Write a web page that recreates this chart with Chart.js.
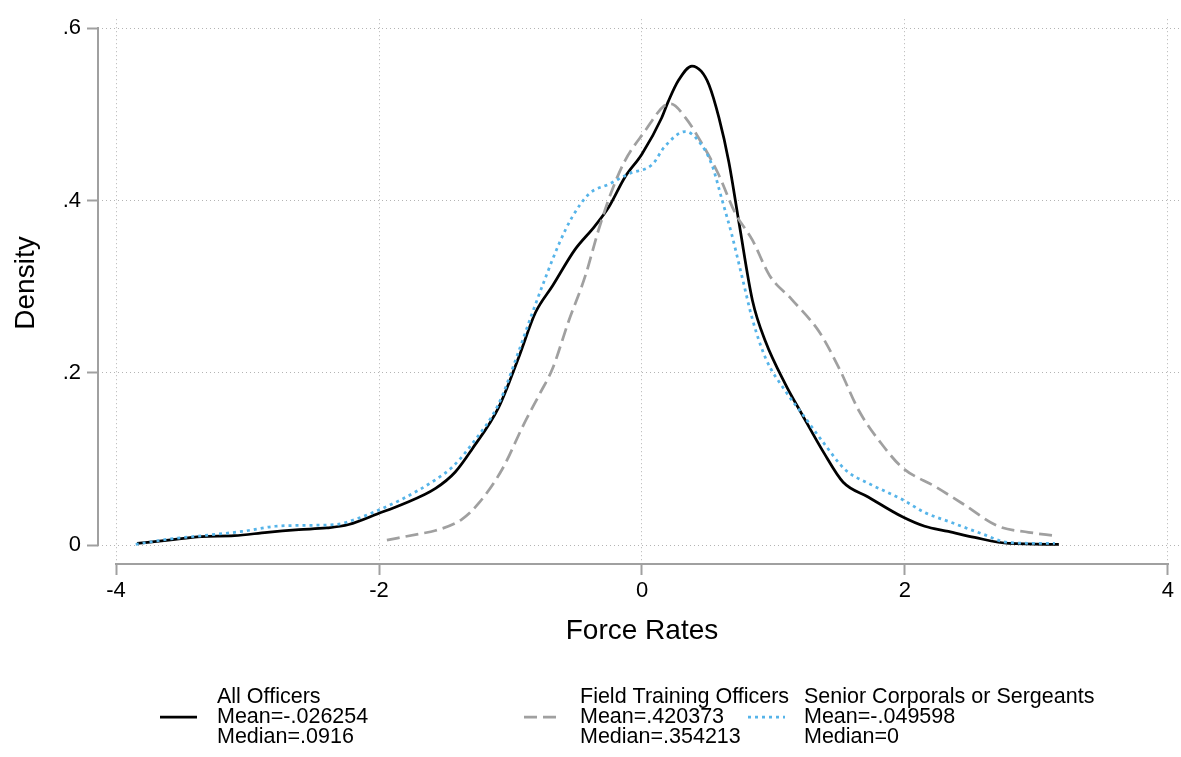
<!DOCTYPE html>
<html>
<head>
<meta charset="utf-8">
<script src="https://cdn.jsdelivr.net/npm/chart.js@4.4.1/dist/chart.umd.min.js"></script>
<style>
    html, body { margin: 0; padding: 0; background: #ffffff; }
    #wrap { width: 1181px; height: 757px; position: relative; }
</style>
</head>
<body>
<div id="wrap"><canvas id="chart" width="1181" height="757"></canvas></div>
<script>
// Kernel density curves
const allX = [-3.84, -3.6, -3.35, -3.1, -2.85, -2.61, -2.4, -2.23, -2.0, -1.83, -1.57, -1.42, -1.29, -1.09,
    -0.94, -0.81, -0.68, -0.51, -0.36, -0.25, -0.13, 0.0, 0.15, 0.2, 0.28, 0.38, 0.45, 0.51, 0.585, 0.66,
    0.74, 0.84, 0.94, 1.09, 1.22, 1.38, 1.53, 1.72, 1.98, 2.15, 2.33, 2.53, 2.79, 3.17];
const allY = [0.002, 0.006, 0.010, 0.011, 0.015, 0.018, 0.020, 0.024, 0.037, 0.047, 0.066, 0.085, 0.112, 0.160,
    0.217, 0.270, 0.301, 0.343, 0.370, 0.393, 0.427, 0.454, 0.496, 0.515, 0.540, 0.556, 0.550, 0.534, 0.496, 0.445,
    0.372, 0.284, 0.236, 0.187, 0.151, 0.108, 0.073, 0.056, 0.033, 0.022, 0.016, 0.009, 0.002, 0.001];

const ftoX = [-1.94, -1.70, -1.57, -1.37, -1.24, -1.06, -0.90, -0.78, -0.68, -0.56, -0.43, -0.33, -0.23, -0.13,
    0.02, 0.17, 0.22, 0.33, 0.46, 0.58, 0.71, 0.84, 0.97, 1.14, 1.35, 1.50, 1.65, 1.83, 1.98, 2.23, 2.43,
    2.71, 2.94, 3.14];
const ftoY = [0.006, 0.013, 0.017, 0.030, 0.049, 0.089, 0.140, 0.175, 0.205, 0.259, 0.313, 0.366, 0.411, 0.446,
    0.480, 0.510, 0.512, 0.496, 0.465, 0.431, 0.385, 0.354, 0.313, 0.285, 0.247, 0.205, 0.156, 0.116, 0.090, 0.068, 0.049,
    0.022, 0.015, 0.011];

const srX = [-3.85, -3.6, -3.35, -3.04, -2.79, -2.59, -2.33, -2.18, -2.0, -1.83, -1.57, -1.44, -1.29, -1.09,
    -0.94, -0.84, -0.74, -0.63, -0.53, -0.40, -0.25, -0.10, 0.08, 0.17, 0.33, 0.43, 0.53, 0.61, 0.68, 0.76,
    0.84, 0.94, 1.09, 1.24, 1.37, 1.55, 1.72, 1.98, 2.15, 2.36, 2.59, 2.79, 3.14];
const srY = [0.001, 0.007, 0.011, 0.016, 0.022, 0.023, 0.024, 0.030, 0.041, 0.053, 0.076, 0.091, 0.118, 0.164,
    0.224, 0.267, 0.308, 0.350, 0.381, 0.408, 0.419, 0.431, 0.442, 0.462, 0.480, 0.469, 0.442, 0.400, 0.362, 0.312,
    0.262, 0.217, 0.179, 0.148, 0.121, 0.087, 0.072, 0.053, 0.038, 0.026, 0.013, 0.003, 0.002];

const xTicks = [-4, -2, 0, 2, 4];
const yTicks = [0, 0.2, 0.4, 0.6];

const seriesNames = ['All Officers', 'Field Training Officers', 'Senior Corporals or Sergeants'];
const seriesMeans = ['Mean=-.026254', 'Mean=.420373', 'Mean=-.049598'];
const seriesMedians = ['Median=.0916', 'Median=.354213', 'Median=0'];

const xTitle = 'Force Rates';
const yTitle = 'Density';

const FONT = "'Liberation Sans', Arial, Helvetica, sans-serif";
const AXIS_GRAY = '#a0a0a0';
const GRID_GRAY = '#b4b4b4';
const colors = ['#000000', '#a0a0a0', '#56b4e9'];
const dashes = [[], [13, 6], [3, 4]];

const toPoints = (xs, ys) => xs.map((x, i) => ({ x, y: ys[i] }));

// stata-like format: .6 instead of 0.6
const fmt = v => {
    if (v === 0) return '0';
    const s = String(Math.round(v * 10) / 10);
    return s.replace(/^0\./, '.').replace(/^-0\./, '-.');
};

// axis lines offset from the plot region, axis titles and the 3-column legend
const stataFrame = {
    id: 'stataFrame',
    afterDraw(chart) {
        const { ctx, chartArea, scales } = chart;
        const xs = scales.x, ys = scales.y;
        ctx.save();
        ctx.strokeStyle = AXIS_GRAY;
        ctx.lineWidth = 2;
        ctx.setLineDash([]);
        ctx.beginPath();
        ctx.moveTo(xs.getPixelForValue(xTicks[0]) - 1, chartArea.bottom);
        ctx.lineTo(xs.getPixelForValue(xTicks[xTicks.length - 1]) + 1, chartArea.bottom);
        ctx.moveTo(chartArea.left, ys.getPixelForValue(yTicks[0]) + 1);
        ctx.lineTo(chartArea.left, ys.getPixelForValue(yTicks[yTicks.length - 1]) - 1);
        ctx.stroke();

        ctx.fillStyle = '#000';
        ctx.font = '28px ' + FONT;
        ctx.textAlign = 'center';
        ctx.textBaseline = 'middle';
        ctx.fillText(xTitle, xs.getPixelForValue(0), 631);
        ctx.translate(26, 283);
        ctx.rotate(-Math.PI / 2);
        ctx.fillText(yTitle, 0, 0);
        ctx.restore();

        // legend
        const keyX = [160, 524, 748];
        const textX = [217, 580, 804];
        ctx.save();
        ctx.font = '21.5px ' + FONT;
        ctx.textAlign = 'left';
        ctx.textBaseline = 'middle';
        for (let i = 0; i < seriesNames.length; i++) {
            ctx.strokeStyle = colors[i];
            ctx.lineWidth = 2.75;
            ctx.setLineDash(dashes[i]);
            ctx.beginPath();
            ctx.moveTo(keyX[i], 717);
            ctx.lineTo(keyX[i] + 37, 717);
            ctx.stroke();
            ctx.fillStyle = '#000';
            ctx.fillText(seriesNames[i], textX[i], 697);
            ctx.fillText(seriesMeans[i], textX[i], 717);
            ctx.fillText(seriesMedians[i], textX[i], 737);
        }
        ctx.restore();
    }
};

const datasets = [
    toPoints(allX, allY),
    toPoints(ftoX, ftoY),
    toPoints(srX, srY),
].map((pts, i) => ({
    label: seriesNames[i],
    data: pts,
    borderColor: colors[i],
    backgroundColor: colors[i],
    borderWidth: 2.75,
    borderDash: dashes[i],
    pointRadius: 0,
    fill: false,
    cubicInterpolationMode: 'monotone',
    order: 2 - i,
}));

const gridStyle = {
    color: GRID_GRAY,
    lineWidth: 1,
    drawTicks: true,
    tickLength: 11,
    tickColor: AXIS_GRAY,
    tickWidth: 2,
};

new Chart(document.getElementById('chart'), {
    type: 'line',
    data: { datasets },
    options: {
        responsive: false,
        animation: false,
        layout: { padding: { left: 12, right: 0, top: 12, bottom: 0 } },
        plugins: {
            legend: { display: false },
            tooltip: { enabled: false },
        },
        scales: {
            x: {
                type: 'linear',
                min: -4.137,
                max: 4.099,
                afterBuildTicks: s => { s.ticks = xTicks.map(v => ({ value: v })); },
                afterFit: s => { s.height = 193; },
                grid: gridStyle,
                border: { display: false, dash: [1, 3] },
                ticks: {
                    color: '#000',
                    padding: 3,
                    font: { family: FONT, size: 22 },
                    callback: v => fmt(v),
                },
            },
            y: {
                type: 'linear',
                min: -0.0218,
                max: 0.6103,
                afterBuildTicks: s => { s.ticks = yTicks.map(v => ({ value: v })); },
                afterFit: s => { s.width = 86; },
                grid: gridStyle,
                border: { display: false, dash: [1, 3] },
                ticks: {
                    color: '#000',
                    padding: 6,
                    font: { family: FONT, size: 22 },
                    callback: v => fmt(v),
                },
            },
        },
    },
    plugins: [stataFrame],
});
</script>
</body>
</html>
